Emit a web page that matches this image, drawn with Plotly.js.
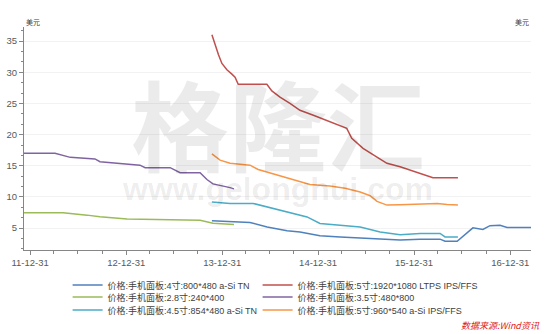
<!DOCTYPE html>
<html><head><meta charset="utf-8">
<script src="https://cdn.plot.ly/plotly-3.0.1.min.js"></script>
<style>html,body{margin:0;padding:0;background:#fff;}#c{width:554px;height:334px;}</style>
</head><body><div id="c"></div>
<script>
// Series names (legend order)
const names = [
  "价格:手机面板:4寸:800*480 a-Si TN",
  "价格:手机面板:5寸:1920*1080 LTPS IPS/FFS",
  "价格:手机面板:2.8寸:240*400",
  "价格:手机面板:3.5寸:480*800",
  "价格:手机面板:4.5寸:854*480 a-Si TN",
  "价格:手机面板:5寸:960*540 a-Si IPS/FFS"
];
const colors = ["#4F81BD","#C0504D","#9BBB59","#8064A2","#4BACC6","#F79646"];
const legendOf = ["legend","legend","legend2","legend2","legend3","legend3"];

// 4寸 800*480 a-Si TN
const d4 = ["2013-11-22","2014-04-16","2014-06-20","2014-09-04","2014-10-23","2015-01-07","2015-03-25","2015-07-05","2015-11-08","2016-01-23","2016-04-08","2016-04-27","2016-06-12","2016-08-11","2016-09-18","2016-10-15","2016-11-22","2016-12-19","2017-03-20"];
const v4 = [6.2,5.9,5.2,4.6,4.4,3.8,3.6,3.35,3.1,3.24,3.24,2.9,2.9,5.05,4.8,5.4,5.45,5.1,5.1];

// 5寸 1920*1080 LTPS IPS/FFS
const d5a = ["2013-11-22","2013-12-04","2013-12-17","2013-12-30","2014-01-18","2014-02-06","2014-02-18","2014-03-02","2014-06-19","2014-07-08","2014-08-08","2014-09-15","2014-10-23","2014-12-13","2015-01-20","2015-02-27","2015-04-06","2015-04-19","2015-05-08","2015-06-20","2015-08-12","2015-09-19","2015-11-08","2015-12-27","2016-03-12","2016-06-15"];
const v5a = [36.0,34.4,32.8,31.4,30.4,29.7,29.2,28.06,28.06,27.0,26.0,25.0,23.9,23.1,22.5,21.8,21.2,21.0,19.4,17.8,16.4,15.4,14.85,14.2,13.1,13.1];

// 2.8寸 240*400
const d28 = ["2011-12-08","2012-05-05","2012-08-04","2012-09-22","2013-01-03","2013-06-05","2013-10-08","2013-11-26","2014-02-14"];
const v28 = [7.47,7.47,7.09,6.82,6.45,6.4,6.25,5.8,5.6];

// 3.5寸 480*800
const d35 = ["2011-12-08","2012-04-04","2012-06-01","2012-09-03","2012-09-22","2012-12-07","2013-02-21","2013-03-13","2013-06-16","2013-07-24","2013-10-08","2013-11-03","2013-11-26","2014-01-30","2014-02-14"];
const v35 = [17.0,17.0,16.35,16.1,15.65,15.4,15.1,14.7,14.7,13.9,13.9,12.8,12.1,11.5,11.3];

// 4.5寸 854*480 a-Si TN
const d45 = ["2013-11-22","2014-01-30","2014-04-28","2014-06-20","2014-09-04","2014-11-19","2015-01-07","2015-03-25","2015-06-09","2015-08-24","2015-11-08","2016-01-23","2016-04-08","2016-04-27","2016-06-15"];
const v45 = [9.2,8.97,8.97,8.4,7.6,6.8,5.76,5.5,5.2,4.4,3.95,4.15,4.15,3.6,3.6];

// 5寸 960*540 a-Si IPS/FFS
const d5b = ["2013-11-22","2013-12-23","2014-01-30","2014-04-16","2014-05-17","2014-06-19","2014-08-08","2014-10-08","2014-11-30","2015-02-14","2015-04-13","2015-06-09","2015-07-17","2015-08-12","2015-09-19","2015-11-08","2016-01-23","2016-03-28","2016-05-05","2016-06-15"];
const v5b = [16.9,15.9,15.4,15.1,14.4,14.0,13.4,12.6,12.0,11.75,11.4,10.8,10.2,9.3,8.7,8.75,8.9,8.95,8.8,8.7];

const xs = [d4,d5a,d28,d35,d45,d5b];
const ys = [v4,v5a,v28,v35,v45,v5b];

const yearTicks = ["2011-12-31","2012-12-31","2013-12-31","2014-12-31","2015-12-31","2016-12-31"];
const quarterEnds = [];
for (let y = 2011; y <= 2017; y++) {
  ["03-31","06-30","09-30","12-31"].forEach(m => quarterEnds.push(y + "-" + m));
}

const traces = names.map((n,i) => {
  const t = {
    type: "scatter", mode: "lines", name: n, legend: legendOf[i],
    x: xs[i], y: ys[i],
    line: {color: colors[i], width: 1.5}
  };
  if (i % 2 === 0) t.legendwidth = 145;
  return t;
});

const tickFont = {family: "Liberation Sans, Arial, sans-serif", size: 9.5, color: "#595959"};
const yCommon = {
  range: [1.5, 37.25], tick0: 0, dtick: 5, ticks: "outside", ticklen: 4, tickcolor: "#868686",
  showline: true, linecolor: "#868686", linewidth: 1, zeroline: false, tickfont: tickFont,
  minor: {tick0: 0, dtick: 5/3, ticks: "outside", ticklen: 2, tickcolor: "#868686", showgrid: false}
};
const legendFont = {family: "Liberation Sans, Noto Sans CJK SC, sans-serif", size: 9, color: "#404040"};
function legendRow(yv) {
  return {orientation: "h", x: 0.086, xanchor: "left", y: yv, yanchor: "top",
          entrywidthmode: "pixels", traceorder: "normal",
          font: legendFont, bgcolor: "rgba(0,0,0,0)"};
}

const layout = {
  width: 554, height: 334,
  margin: {l: 24, r: 23, t: 27, b: 84, autoexpand: false},
  paper_bgcolor: "#fff", plot_bgcolor: "#fff",
  showlegend: true,
  font: {family: "Noto Sans CJK SC, sans-serif", color: "#404040"},
  xaxis: {
    type: "date", range: ["2011-12-08", "2017-03-20"],
    tickmode: "array", tickvals: yearTicks, tickformat: "%y-%m-%d",
    ticks: "outside", ticklen: 4, tickcolor: "#868686",
    showline: true, linecolor: "#868686", linewidth: 1, showgrid: false, zeroline: false,
    tickfont: tickFont,
    minor: {tickmode: "array", tickvals: quarterEnds, ticks: "outside", ticklen: 3, tickcolor: "#868686", showgrid: false}
  },
  yaxis: Object.assign({}, yCommon, {showgrid: true, gridcolor: "#f2f2f2", gridwidth: 1}),
  yaxis2: Object.assign({}, yCommon, {overlaying: "y", side: "right", anchor: "x", showgrid: false}),
  legend: legendRow(-0.092),
  legend2: legendRow(-0.1457),
  legend3: legendRow(-0.204),
  annotations: [
    {text: "格隆汇", xref: "paper", yref: "paper", x: 0.5, y: 0.58, xanchor: "center", yanchor: "middle", showarrow: false,
     font: {family: "Noto Sans CJK SC, sans-serif", size: 98, color: "rgba(0,0,0,0.08)", weight: 700}},
    {text: "www.gelonghui.com", xref: "paper", yref: "paper", x: 0.5, y: 0.2735, xanchor: "center", yanchor: "middle", showarrow: false,
     font: {family: "Liberation Sans, Arial, sans-serif", size: 32, color: "rgba(0,0,0,0.08)", weight: 700}},
    {text: "美元", xref: "paper", yref: "paper", x: 0, y: 1, xanchor: "left", yanchor: "bottom", showarrow: false, yshift: -2,
     font: {family: "Noto Sans CJK SC, sans-serif", size: 7, color: "#404040"}},
    {text: "美元", xref: "paper", yref: "paper", x: 1, y: 1, xanchor: "right", yanchor: "bottom", showarrow: false, yshift: -2,
     font: {family: "Noto Sans CJK SC, sans-serif", size: 7, color: "#404040"}},
    {text: "<i>数据来源:Wind资讯</i>", xref: "paper", yref: "paper", x: 1.022, y: -0.338, xanchor: "right", yanchor: "middle", showarrow: false,
     font: {family: "Noto Sans CJK SC, sans-serif", size: 9, color: "#e02020"}}
  ]
};

Plotly.newPlot("c", traces, layout, {displayModeBar: false, staticPlot: true});
</script>
</body></html>
